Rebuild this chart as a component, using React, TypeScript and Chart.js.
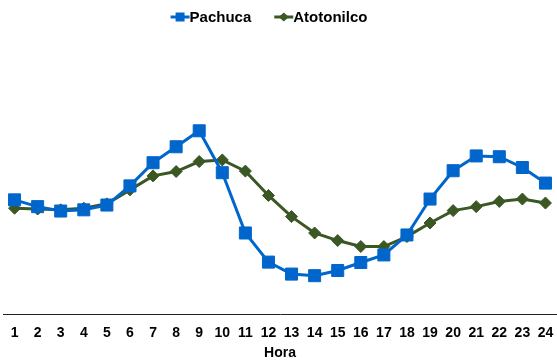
import React, { useEffect, useRef } from "react";
import { Chart, registerables } from "chart.js";

Chart.register(...registerables);

const hours = ["1", "2", "3", "4", "5", "6", "7", "8", "9", "10", "11", "12", "13", "14", "15", "16", "17", "18", "19", "20", "21", "22", "23", "24"];
const seriesNames = ["Pachuca", "Atotonilco"];
const pachuca = [2.87, 2.70, 2.59, 2.62, 2.74, 3.22, 3.80, 4.20, 4.60, 3.55, 2.04, 1.31, 1.01, 0.97, 1.10, 1.30, 1.49, 1.99, 2.89, 3.60, 3.97, 3.95, 3.68, 3.29];
const atotonilco = [2.66, 2.64, 2.62, 2.66, 2.77, 3.12, 3.47, 3.58, 3.83, 3.87, 3.59, 2.98, 2.45, 2.04, 1.85, 1.70, 1.70, 1.95, 2.29, 2.60, 2.70, 2.83, 2.89, 2.79];
const xTitle = "Hora";

const FONT = '"Liberation Sans", Arial, sans-serif';
const BLUE = "#0066CC";
const GREEN = "#3A5724";

const legendPlugin = {
  id: "lineMarkerLegend",
  afterDraw(chart: any) {
    const ctx = chart.ctx as CanvasRenderingContext2D;
    ctx.save();
    ctx.font = `bold 15px ${FONT}`;
    const markerW = 19;
    const itemGap = 23;
    const items = chart.data.datasets.map((ds: any) => ({ ds, tw: ctx.measureText(ds.label).width }));
    const total = items.reduce((s: number, it: any) => s + markerW + it.tw, 0) + itemGap * (items.length - 1);
    let x = 269 - total / 2;
    const y = 17;
    for (const it of items) {
      const color = it.ds.borderColor;
      ctx.strokeStyle = color;
      ctx.lineWidth = 3;
      ctx.beginPath();
      ctx.moveTo(x, y);
      ctx.lineTo(x + markerW, y);
      ctx.stroke();
      ctx.fillStyle = color;
      const cx = x + markerW / 2;
      if (it.ds.pointStyle === "rect") {
        ctx.fillRect(cx - 4.5, y - 4.5, 9, 9);
      } else {
        ctx.beginPath();
        ctx.moveTo(cx - 5, y);
        ctx.lineTo(cx, y - 4.5);
        ctx.lineTo(cx + 5, y);
        ctx.lineTo(cx, y + 4.5);
        ctx.closePath();
        ctx.fill();
      }
      ctx.fillStyle = "#000";
      ctx.textBaseline = "middle";
      ctx.textAlign = "left";
      ctx.fillText(it.ds.label, x + markerW, y + 1);
      x += markerW + it.tw + itemGap;
    }
    ctx.restore();
  },
};

export default function App() {
  const canvasRef = useRef<HTMLCanvasElement | null>(null);

  useEffect(() => {
    const canvas = canvasRef.current;
    if (!canvas) return;
    const chart = new Chart(canvas, {
      type: "line",
      data: {
        labels: hours,
        datasets: [
          {
            label: seriesNames[0],
            data: pachuca,
            borderColor: BLUE,
            backgroundColor: BLUE,
            borderWidth: 3,
            pointStyle: "rect",
            pointRadius: 8.5,
            pointBorderWidth: 1,
            pointBackgroundColor: BLUE,
            pointBorderColor: BLUE,
            tension: 0,
            clip: false as any,
          },
          {
            label: seriesNames[1],
            data: atotonilco,
            borderColor: GREEN,
            backgroundColor: GREEN,
            borderWidth: 3,
            pointStyle: "rectRot",
            pointRadius: 6,
            pointBorderWidth: 1,
            pointBackgroundColor: GREEN,
            pointBorderColor: GREEN,
            tension: 0,
            clip: false as any,
          },
        ],
      },
      options: {
        animation: false,
        responsive: true,
        maintainAspectRatio: false,
        layout: { autoPadding: false, padding: { left: 3, right: 0, top: 35, bottom: 0 } },
        plugins: {
          legend: { display: false },
          tooltip: { enabled: false },
        },
        scales: {
          x: {
            offset: true,
            grid: { display: false, tickLength: 10 },
            border: { display: true, color: "#222", width: 1 },
            ticks: {
              color: "#000",
              font: { family: FONT, size: 14, weight: "bold" },
              padding: 0,
              autoSkip: false,
              maxRotation: 0,
            },
            title: {
              display: true,
              text: xTitle,
              color: "#000",
              font: { family: FONT, size: 14, weight: "bold" },
              padding: { top: 4, bottom: 0 },
            },
          },
          y: {
            display: false,
            min: 0,
            max: 7,
          },
        },
      },
      plugins: [legendPlugin],
    });
    return () => chart.destroy();
  }, []);

  return (
    <div style={{ position: "absolute", left: 0, top: 0, width: 557, height: 362 }}>
      <canvas ref={canvasRef} />
    </div>
  );
}
